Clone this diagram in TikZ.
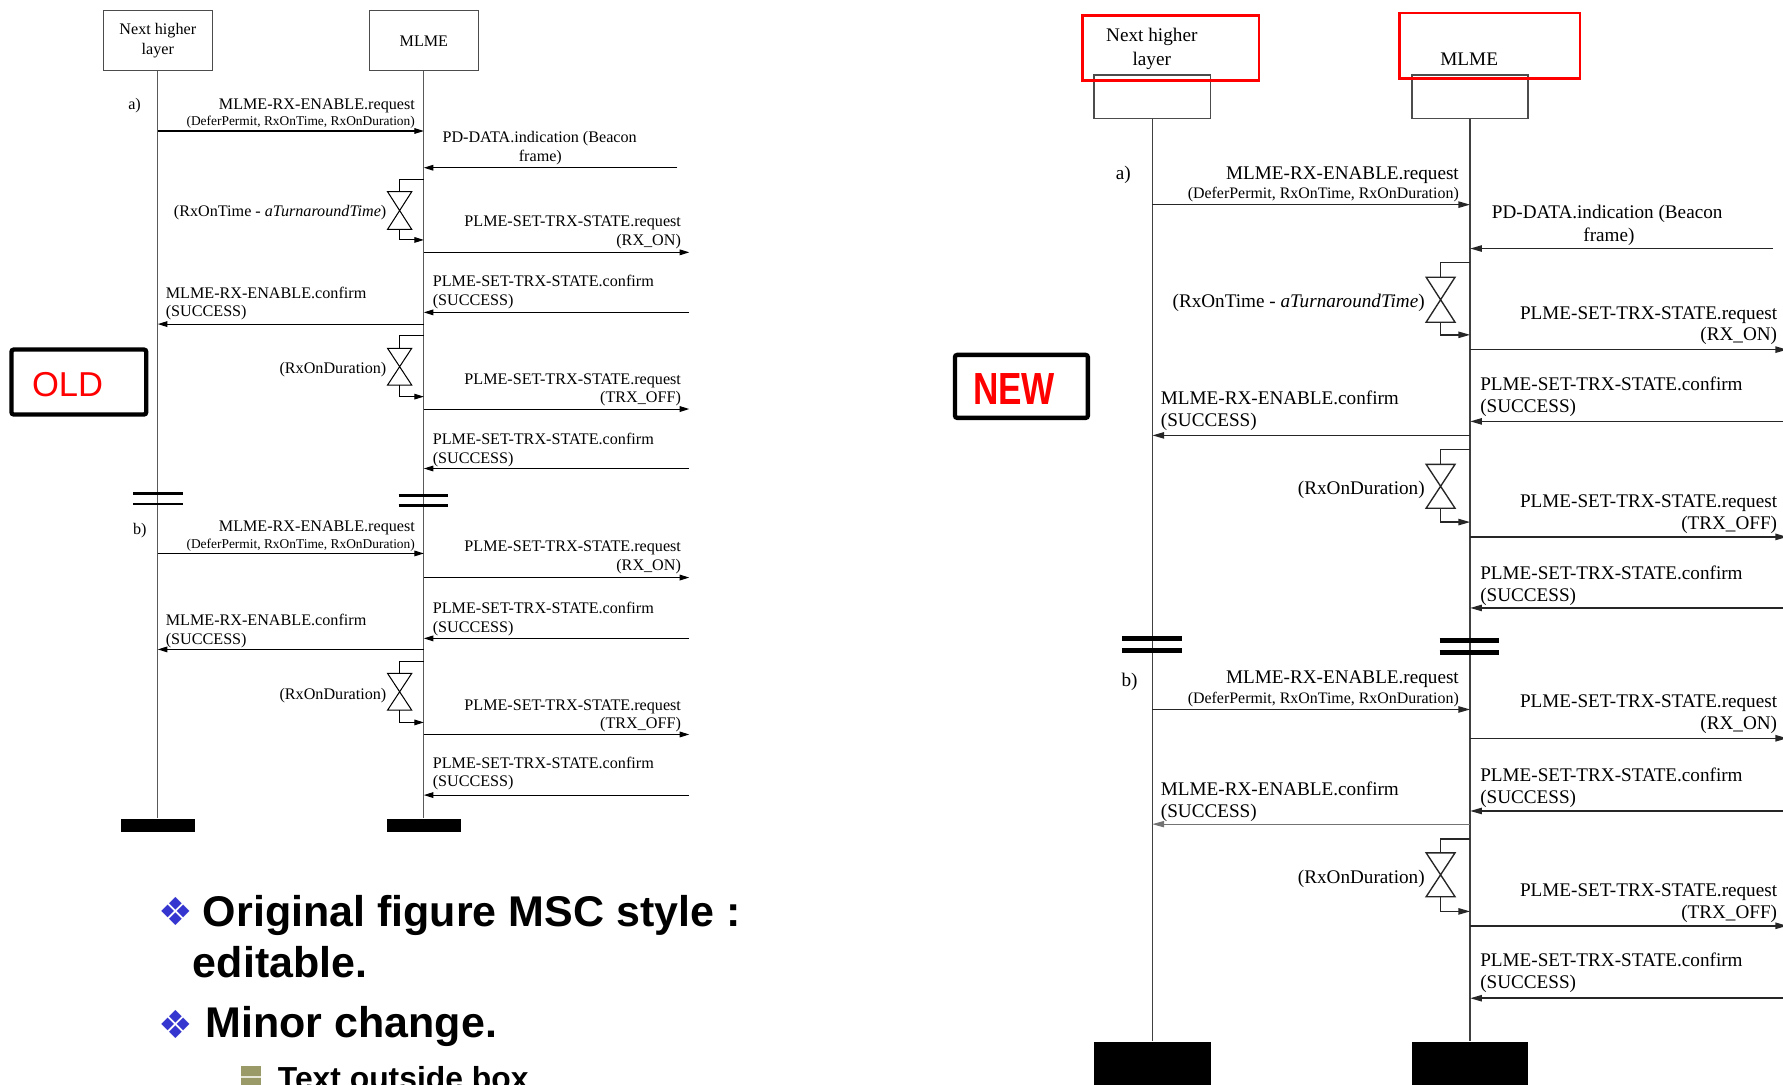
\documentclass[tikz,border=0pt]{standalone}
\usepackage{graphicx}
\usepackage{fontspec}
\setmainfont{Liberation Serif}
\newfontfamily\arialf{Liberation Sans}
\newfontfamily\dejavuf{DejaVu Sans}
\usetikzlibrary{arrows.meta}
\definecolor{bulblue}{HTML}{3535CF}
\definecolor{bulolive}{HTML}{9A9968}
\definecolor{markred}{HTML}{FF0000}

\tikzset{
  lbl/.style={font=\fontsize{7.1}{8.5}\selectfont, inner sep=0pt},
  sml/.style={font=\fontsize{5.9}{7}\selectfont, inner sep=0pt},
  msg/.style={draw=black, line width=0.45pt, -{Triangle[length=4.2pt,width=2.5pt]}},
  msgthin/.style={msg},
  timer/.style={draw=black, line width=0.45pt},
  brk/.style={draw=black, line width=1.3pt},
  life/.style={draw=black!65, line width=0.45pt},
  headbox/.style={draw=black!70, line width=0.45pt, inner sep=0pt, align=center},
  endbar/.style={fill=black, inner sep=0pt},
  redbox/.style={draw=markred, line width=1.15pt},
  markbox/.style={draw=black, line width=1.9pt, rounded corners=1pt},
  big/.style={font=\arialf\bfseries\fontsize{18.9}{22}\selectfont, inner sep=0pt, anchor=base west},
  bul/.style={font=\dejavuf\fontsize{17}{17}\selectfont, text=bulblue, inner sep=0pt},
  rlbl/.style={font=\fontsize{8.45}{10}\selectfont, inner sep=0pt, anchor=base},
}

% timer: #1 lifeline node, #2 top y, #3 hourglass top, #4 hourglass bottom, #5 bottom y
\newcommand\mytimer[5]{%
  \draw[timer] (#1 |- 0,#2) -| (353.3,#3);
  \draw[timer] (342.6,#3) -- (364,#3) -- (342.6,#4) -- (364,#4) -- cycle;
  \draw[msg] (353.3,#4) |- (#1 |- 0,#5);
}

% #1 prefix, #2 left lifeline node, #3 right lifeline node
\newcommand\msgbody[3]{%
  \coordinate (#1-R) at (610,0);
  \coordinate (#1-P) at (599.5,0);
  \node[lbl,anchor=base west] (#1-a) at (112.4,96.7) {a)};
  \node[lbl,anchor=base east] (#1-m1) at (367.2,96.7) {MLME-RX-ENABLE.request};
  \node[sml,anchor=base east] (#1-m1p) at (367.2,110.8) {(DeferPermit, RxOnTime, RxOnDuration)};
  \draw[msg] (#2 |- 0,115.2) -- (#3 |- 0,115.2);
  \node[lbl,anchor=base west] (#1-pd) at (390.9,125.5) {PD-DATA.indication (Beacon};
  \node[lbl,anchor=base] (#1-pdp) at (478,142.2) {frame)};
  \draw[msg] (#1-P |- 0,147.5) -- (#3 |- 0,147.5);
  \mytimer{#3}{158}{168.6}{201.7}{211}
  \node[lbl,anchor=base east] (#1-t1) at (341.9,190.6) {(RxOnTime - \textit{aTurnaroundTime})};
  \node[lbl,anchor=base east] (#1-q1) at (603,199.4) {PLME-SET-TRX-STATE.request};
  \node[lbl,anchor=base east] (#1-q1p) at (603,215.5) {(RX\_ON)};
  \draw[msg] (#3 |- 0,221.9) -- (#1-R |- 0,221.9);
  \node[lbl,anchor=base west] (#1-c1) at (382.3,252.2) {PLME-SET-TRX-STATE.confirm};
  \node[lbl,anchor=base west] (#1-c1p) at (382.3,268.3) {(SUCCESS)};
  \draw[msg] (#1-R |- 0,274.7) -- (#3 |- 0,274.7);
  \node[lbl,anchor=base west] (#1-e1) at (145.7,262.4) {MLME-RX-ENABLE.confirm};
  \node[lbl,anchor=base west] (#1-e1p) at (145.7,278.5) {(SUCCESS)};
  \draw[msg] (#3 |- 0,285) -- (#2 |- 0,285);
  \mytimer{#3}{295.2}{306.3}{338.6}{348.8}
  \node[lbl,anchor=base east] (#1-t2) at (341.9,328.4) {(RxOnDuration)};
  \node[lbl,anchor=base east] (#1-q2) at (603,337.7) {PLME-SET-TRX-STATE.request};
  \node[lbl,anchor=base east] (#1-q2p) at (603,354.2) {(TRX\_OFF)};
  \draw[msg] (#3 |- 0,359.7) -- (#1-R |- 0,359.7);
  \node[lbl,anchor=base west] (#1-c2) at (382.3,390.8) {PLME-SET-TRX-STATE.confirm};
  \node[lbl,anchor=base west] (#1-c2p) at (382.3,407.5) {(SUCCESS)};
  \draw[msg] (#1-R |- 0,412) -- (#3 |- 0,412);
  \draw[brk] (117.2,434.4) -- (161.7,434.4) (117.2,443.2) -- (161.7,443.2);
  \draw[brk] (352.5,435.8) -- (396.3,435.8) (352.5,444.6) -- (396.3,444.6);
  \node[lbl,anchor=base west] (#1-b) at (116.6,469.6) {b)};
  \node[lbl,anchor=base east] (#1-m2) at (367.2,467.6) {MLME-RX-ENABLE.request};
  \node[sml,anchor=base east] (#1-m2p) at (367.2,482.3) {(DeferPermit, RxOnTime, RxOnDuration)};
  \draw[msg] (#2 |- 0,486.7) -- (#3 |- 0,486.7);
  \node[lbl,anchor=base east] (#1-q3) at (603,485.2) {PLME-SET-TRX-STATE.request};
  \node[lbl,anchor=base east] (#1-q3p) at (603,501.4) {(RX\_ON)};
  \draw[msg] (#3 |- 0,507.9) -- (#1-R |- 0,507.9);
  \node[lbl,anchor=base west] (#1-c3) at (382.3,539.4) {PLME-SET-TRX-STATE.confirm};
  \node[lbl,anchor=base west] (#1-c3p) at (382.3,556.1) {(SUCCESS)};
  \draw[msg] (#1-R |- 0,561.4) -- (#3 |- 0,561.4);
  \node[lbl,anchor=base west] (#1-e2) at (145.7,550.3) {MLME-RX-ENABLE.confirm};
  \node[lbl,anchor=base west] (#1-e2p) at (145.7,566.4) {(SUCCESS)};
  \draw[msgthin] (#3 |- 0,571.1) -- (#2 |- 0,571.1);
  \mytimer{#3}{581.9}{592.2}{624.5}{635.3}
  \node[lbl,anchor=base east] (#1-t3) at (341.9,614.7) {(RxOnDuration)};
  \node[lbl,anchor=base east] (#1-q4) at (603,624.5) {PLME-SET-TRX-STATE.request};
  \node[lbl,anchor=base east] (#1-q4p) at (603,640.6) {(TRX\_OFF)};
  \draw[msg] (#3 |- 0,645.9) -- (#1-R |- 0,645.9);
  \node[lbl,anchor=base west] (#1-c4) at (382.3,675.7) {PLME-SET-TRX-STATE.confirm};
  \node[lbl,anchor=base west] (#1-c4p) at (382.3,691.8) {(SUCCESS)};
  \draw[msg] (#1-R |- 0,699.2) -- (#3 |- 0,699.2);
}

\begin{document}
\begin{tikzpicture}[x=0.5pt,y=-0.5pt]
\useasboundingbox (0,0) rectangle (1568,954);
\clip (0,0) rectangle (1568,954);

% ---------- OLD diagram ----------
\node[headbox, minimum width=47.9pt, minimum height=26.5pt, font=\fontsize{7.1}{8.8}\selectfont] (LA) at (138.8,35.9) {Next higher\\layer};
\node[headbox, minimum width=47.95pt, minimum height=26.5pt, font=\fontsize{7.1}{8.8}\selectfont] (LB) at (372.75,35.9) {MLME};
\node[endbar, minimum width=32.6pt, minimum height=5.7pt] (LAe) at (138.8,725.7) {};
\node[endbar, minimum width=32.3pt, minimum height=5.7pt] (LBe) at (372.75,725.7) {};
\draw[life] (LA.south) -- (LAe.north);
\draw[life] (LB.south) -- (LBe.north);
\begin{scope}[shift={(0.87,0)}, xscale=0.9923]
\msgbody{L}{LA}{LB}
\end{scope}

% ---------- NEW diagram ----------
\node[headbox, line width=0.6pt, minimum width=51.25pt, minimum height=19pt] (RA) at (1013.4,85) {};
\node[headbox, line width=0.6pt, minimum width=50.95pt, minimum height=19pt] (RB) at (1292.8,85) {};
\node[endbar, minimum width=51.2pt, minimum height=27pt] (RAe) at (1013.4,943.2) {};
\node[endbar, minimum width=50.95pt, minimum height=27pt] (RBe) at (1292.8,943.2) {};
\draw[life, draw=black!75, line width=0.6pt] (RA.south) -- (RAe.north);
\draw[life, draw=black!75, line width=0.6pt] (RB.south) -- (RBe.north);
\begin{scope}[shift={(847.5,42.3)}, xscale=1.187, yscale=1.195,
  every node/.append style={transform shape},
  msg/.style={draw=black!85, line width=0.65pt, -{Triangle[length=5.2pt,width=2.8pt]}},
  msgthin/.style={draw=black!55, line width=0.4pt, -{Triangle[length=5.2pt,width=2.8pt]}},
  timer/.style={draw=black!85, line width=0.6pt},
  brk/.style={draw=black, line width=2pt}]
\msgbody{R}{RA}{RB}
\end{scope}
\draw[redbox] (952.2,13.5) rectangle (1107.1,70.6);
\draw[redbox] (1230.5,11.5) rectangle (1389.3,69.2);
\node[rlbl] (RAt1) at (1012.9,36.6) {Next higher};
\node[rlbl] (RAt2) at (1012.9,57.2) {layer};
\node[rlbl] (RBt) at (1292,57.8) {MLME};

% ---------- OLD / NEW marks ----------
\draw[markbox] (10.1,307.4) rectangle (128.6,364.5);
\node[font=\arialf\fontsize{15.2}{16}\selectfont, text=markred, anchor=base west, inner sep=0pt] (old) at (27.8,348.9) {OLD};
\draw[markbox] (839.8,312.1) rectangle (956.7,367.5);
\node[font=\arialf\bfseries\fontsize{19.8}{20}\selectfont, text=markred, anchor=base west, inner sep=0pt] (new) at (855.3,355.3) {\scalebox{0.78}[1]{NEW}};

% ---------- bullets ----------
\node[bul] (bl1) at (154.2,801.8) {❖};
\node[big] (tx1) at (178.1,814.6) {Original figure MSC style :};
\node[big] (tx2) at (169.3,859.6) {editable.};
\node[bul] (bl2) at (154.2,900.8) {❖};
\node[big] (tx3) at (180.5,912.2) {Minor change.};
\fill[bulolive] (211.7,937.2) rectangle (229.5,955);
\draw[draw=white!75!bulolive, line width=0.7pt] (211.7,947.3) -- (229.5,947.3);
\node[font=\arialf\bfseries\fontsize{14}{16}\selectfont, anchor=base west, inner sep=0pt] (tx4) at (244,958) {Text outside box};
\end{tikzpicture}
\end{document}
